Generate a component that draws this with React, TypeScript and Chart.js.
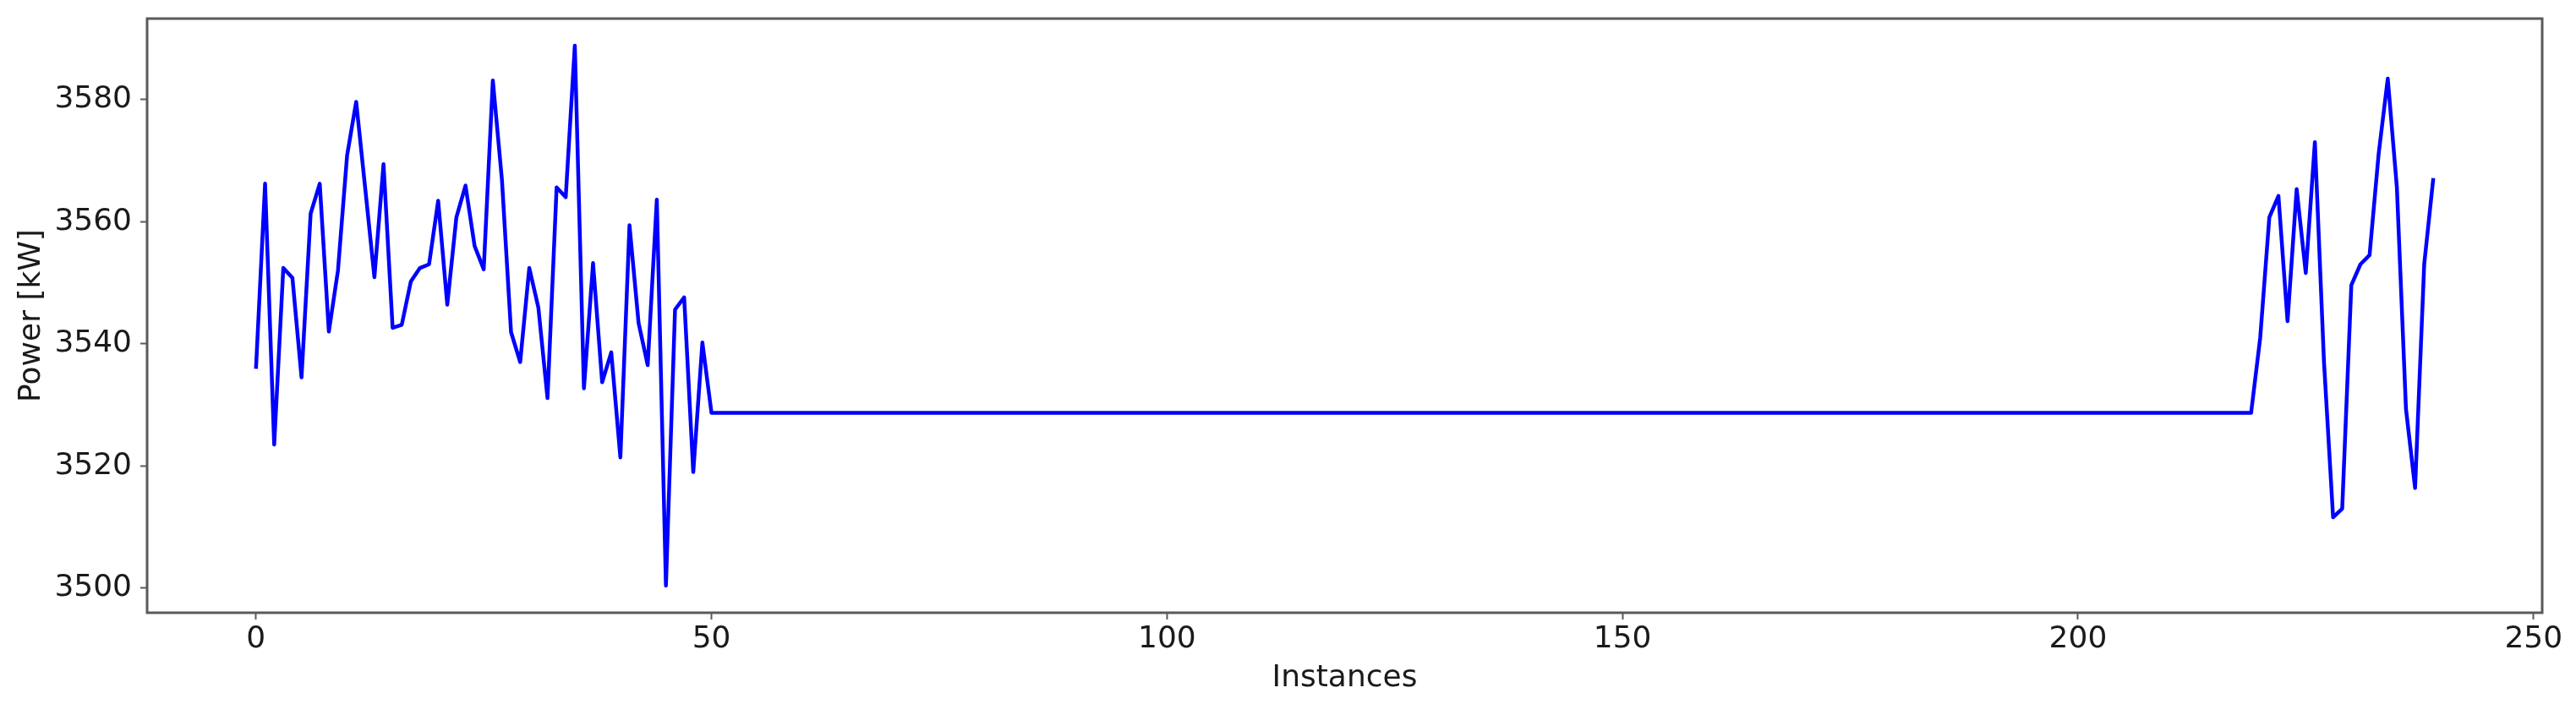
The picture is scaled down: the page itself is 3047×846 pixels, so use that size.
import React, { useEffect, useRef } from "react";
import { Chart, registerables } from "chart.js";

Chart.register(...registerables);

// Instances 0..49
const firstPower = [
  3535.9, 3566.2, 3523.5, 3552.4, 3550.8, 3534.5, 3561.3, 3566.2, 3542.0, 3552.0,
  3570.8, 3579.6, 3565.3, 3550.9, 3569.4, 3542.6, 3543.1, 3550.2, 3552.4, 3553.0,
  3563.4, 3546.4, 3560.7, 3565.9, 3556.0, 3552.2, 3583.1, 3566.8, 3541.9, 3537.0,
  3552.4, 3545.9, 3531.1, 3565.6, 3564.0, 3588.8, 3532.7, 3553.2, 3533.7, 3538.6,
  3521.4, 3559.4, 3543.4, 3536.5, 3563.6, 3500.4, 3545.6, 3547.6, 3519.0, 3540.2,
];

// Instances 50..219 (constant level)
const flatPower = [
  3528.7, 3528.7, 3528.7, 3528.7, 3528.7, 3528.7, 3528.7, 3528.7, 3528.7, 3528.7,
  3528.7, 3528.7, 3528.7, 3528.7, 3528.7, 3528.7, 3528.7, 3528.7, 3528.7, 3528.7,
  3528.7, 3528.7, 3528.7, 3528.7, 3528.7, 3528.7, 3528.7, 3528.7, 3528.7, 3528.7,
  3528.7, 3528.7, 3528.7, 3528.7, 3528.7, 3528.7, 3528.7, 3528.7, 3528.7, 3528.7,
  3528.7, 3528.7, 3528.7, 3528.7, 3528.7, 3528.7, 3528.7, 3528.7, 3528.7, 3528.7,
  3528.7, 3528.7, 3528.7, 3528.7, 3528.7, 3528.7, 3528.7, 3528.7, 3528.7, 3528.7,
  3528.7, 3528.7, 3528.7, 3528.7, 3528.7, 3528.7, 3528.7, 3528.7, 3528.7, 3528.7,
  3528.7, 3528.7, 3528.7, 3528.7, 3528.7, 3528.7, 3528.7, 3528.7, 3528.7, 3528.7,
  3528.7, 3528.7, 3528.7, 3528.7, 3528.7, 3528.7, 3528.7, 3528.7, 3528.7, 3528.7,
  3528.7, 3528.7, 3528.7, 3528.7, 3528.7, 3528.7, 3528.7, 3528.7, 3528.7, 3528.7,
  3528.7, 3528.7, 3528.7, 3528.7, 3528.7, 3528.7, 3528.7, 3528.7, 3528.7, 3528.7,
  3528.7, 3528.7, 3528.7, 3528.7, 3528.7, 3528.7, 3528.7, 3528.7, 3528.7, 3528.7,
  3528.7, 3528.7, 3528.7, 3528.7, 3528.7, 3528.7, 3528.7, 3528.7, 3528.7, 3528.7,
  3528.7, 3528.7, 3528.7, 3528.7, 3528.7, 3528.7, 3528.7, 3528.7, 3528.7, 3528.7,
  3528.7, 3528.7, 3528.7, 3528.7, 3528.7, 3528.7, 3528.7, 3528.7, 3528.7, 3528.7,
  3528.7, 3528.7, 3528.7, 3528.7, 3528.7, 3528.7, 3528.7, 3528.7, 3528.7, 3528.7,
  3528.7, 3528.7, 3528.7, 3528.7, 3528.7, 3528.7, 3528.7, 3528.7, 3528.7, 3528.7,
];

// Instances 220..239
const lastPower = [
  3541.0, 3560.7, 3564.2, 3543.7, 3565.3, 3551.6, 3573.0, 3537.0, 3511.6, 3513.0,
  3549.6, 3553.0, 3554.5, 3571.1, 3583.4, 3565.6, 3529.3, 3516.4, 3553.0, 3567.1,
];

const power = [...firstPower, ...flatPower, ...lastPower];

const xTicks = [0, 50, 100, 150, 200, 250];
const yTicks = [3500, 3520, 3540, 3560, 3580];
const xLabel = "Instances";
const yLabel = "Power [kW]";

const W = 3047;
const H = 846;

export default function App() {
  const ref = useRef<HTMLCanvasElement>(null);

  useEffect(() => {
    document.body.style.margin = "0";
    const canvas = ref.current;
    if (!canvas) return;

    const n = power.length;
    const xm = (n - 1) * 0.05;
    const pmin = Math.min(...power);
    const pmax = Math.max(...power);
    const ym = (pmax - pmin) * 0.05;

    const fontFamily = "'DejaVu Sans', sans-serif";
    const font = { family: fontFamily, size: 36 };
    const spine = "#5a5a5a";
    const textColor = "#1a1a1a";
    const yTickGap = 18; // tick length + padding between label and spine

    const frame = {
      id: "frame",
      afterDraw(chart: any) {
        const { ctx, chartArea } = chart;
        ctx.save();
        ctx.strokeStyle = spine;
        ctx.lineWidth = 3;
        ctx.strokeRect(
          chartArea.left,
          chartArea.top,
          chartArea.right - chartArea.left,
          chartArea.bottom - chartArea.top
        );
        // y tick labels, positioned through the y scale
        const ys = chart.scales.y;
        ctx.fillStyle = textColor;
        ctx.font = `36px ${fontFamily}`;
        ctx.textAlign = "right";
        ctx.textBaseline = "middle";
        for (const v of yTicks) {
          ctx.fillText(String(v), chartArea.left - yTickGap, ys.getPixelForValue(v));
        }
        ctx.restore();
      },
    };

    const chart = new Chart(canvas, {
      type: "line",
      data: {
        datasets: [
          {
            data: power.map((y, i) => ({ x: i, y })),
            borderColor: "#0000ff",
            borderWidth: 4.5,
            borderJoinStyle: "round",
            borderCapStyle: "butt",
            pointRadius: 0,
            tension: 0,
            fill: false,
          },
        ],
      },
      options: {
        animation: false,
        responsive: false,
        maintainAspectRatio: false,
        layout: { padding: { left: 0, right: 40, top: 22, bottom: 0 } },
        plugins: {
          legend: { display: false },
          tooltip: { enabled: false },
        },
        scales: {
          x: {
            type: "linear",
            min: -xm,
            max: n - 1 + xm,
            afterBuildTicks: (s: any) => {
              s.ticks = xTicks.map((v) => ({ value: v }));
            },
            afterFit: (s: any) => {
              s.height = 121;
            },
            grid: {
              drawOnChartArea: false,
              drawTicks: true,
              tickLength: 8,
              tickColor: spine,
              tickWidth: 2,
            },
            border: { display: false },
            ticks: {
              font,
              color: textColor,
              padding: 2,
              maxRotation: 0,
              autoSkip: false,
              callback: (v: any) => String(v),
            },
            title: {
              display: true,
              text: xLabel,
              font,
              color: textColor,
              padding: { top: 0, bottom: 22 },
            },
          },
          y: {
            type: "linear",
            min: pmin - ym,
            max: pmax + ym,
            afterBuildTicks: (s: any) => {
              s.ticks = yTicks.map((v) => ({ value: v }));
            },
            afterFit: (s: any) => {
              s.width = 174;
            },
            grid: {
              drawOnChartArea: false,
              drawTicks: true,
              tickLength: 8,
              tickColor: spine,
              tickWidth: 2,
            },
            border: { display: false },
            ticks: {
              display: false,
            },
            title: {
              display: true,
              text: yLabel,
              font,
              color: textColor,
              padding: { top: 16, bottom: 0 },
            },
          },
        },
      },
      plugins: [frame],
    } as any);

    return () => chart.destroy();
  }, []);

  return (
    <canvas
      ref={ref}
      width={W}
      height={H}
      style={{ display: "block", width: `${W}px`, height: `${H}px` }}
    />
  );
}
